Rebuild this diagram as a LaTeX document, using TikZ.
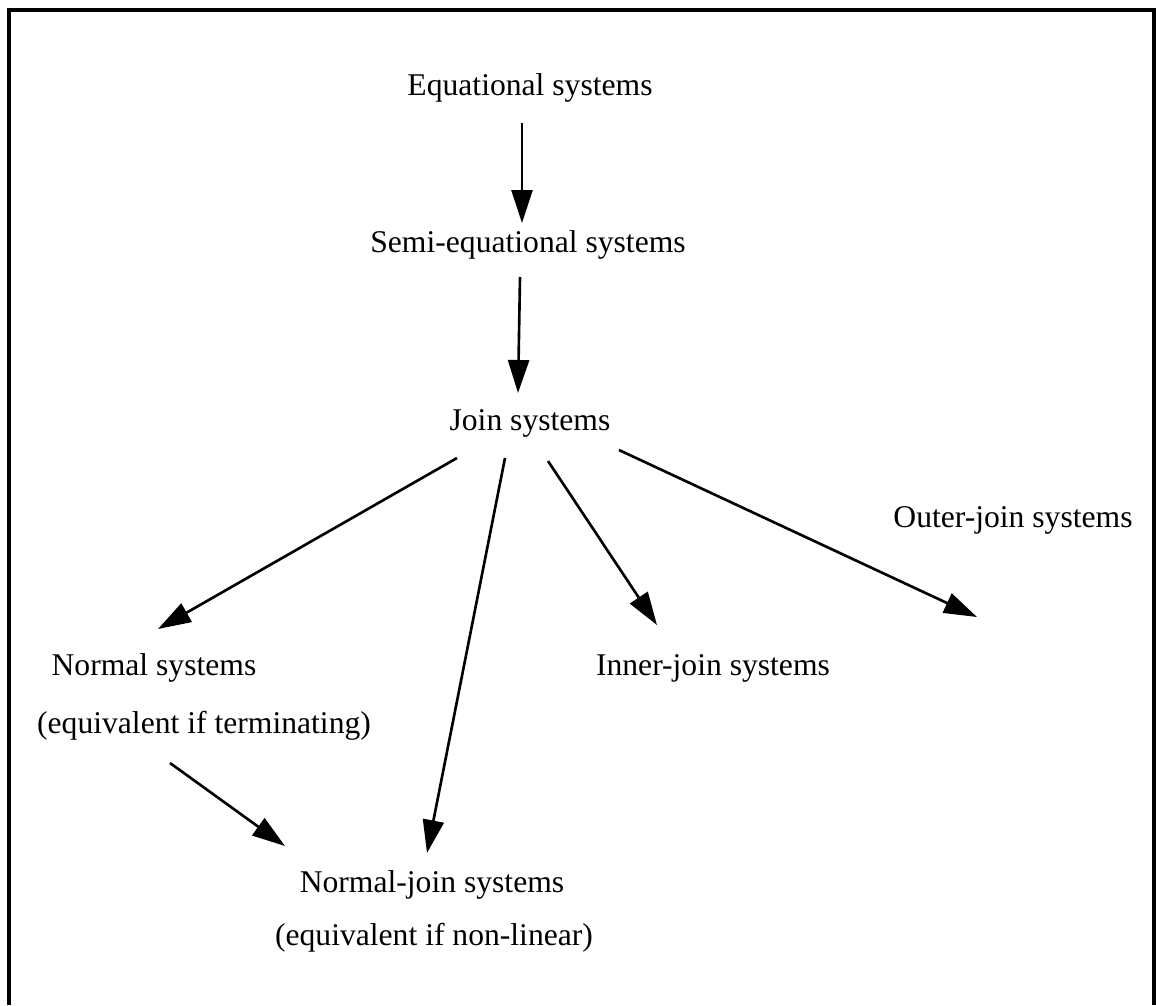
\documentclass[tikz,border=0pt]{standalone}
\usepackage{fontspec}
\setmainfont{Liberation Serif}
\usetikzlibrary{arrows.meta,calc}

\begin{document}
\begin{tikzpicture}[
    x=0.02cm, y=-0.02cm,
    >={Triangle[length=0.66cm,width=0.42cm]},
    every node/.style={font=\fontsize{18}{22}\selectfont, inner sep=0pt},
    lbl/.style={anchor=base},
    arr/.style={->, line width=1.5pt},
    frame/.style={line width=1.8pt, line join=miter}
]
    \useasboundingbox (0,0) rectangle (1156,1005);
    \draw[frame] (9,1005) -- (9,10) -- (1154,10) -- (1154,1005);

    % systems
    \node[lbl] (eq) at (530,95) {Equational systems};
    \node[lbl] (semi) at (528,252) {Semi-equational systems};
    \node[lbl] (join) at (530,430) {Join systems};
    \node[lbl] (outer) at (1013,527) {Outer-join systems};
    \node[lbl] (normal) at (154,675) {Normal systems};
    \node[lbl] (normalnote) at (204,733) {(equivalent if terminating)};
    \node[lbl] (innerj) at (713,675) {Inner-join systems};
    \node[lbl] (normaljoin) at (432,892) {Normal-join systems};
    \node[lbl] (njnote) at (434,945) {(equivalent if non-linear)};
    \coordinate (outertip) at ($(outer.base)+(-36,90)$);

    % arrows
    \draw[arr] ($(eq.base)+(-8,28)$) -- ($(semi.base)+(-6,-29)$);
    \draw[arr] ($(semi.base)+(-8,25)$) -- ($(join.base)+(-12,-37)$);
    \draw[arr] ($(join.base)+(-73,28)$) -- ($(normal.base)+(4,-46)$);
    \draw[arr] ($(join.base)+(-25,28)$) -- ($(normaljoin.base)+(-5,-39)$);
    \draw[arr] ($(join.base)+(18,31)$) -- ($(innerj.base)+(-56,-50)$);
    \draw[arr] ($(join.base)+(89,20)$) -- (outertip);
    \draw[arr] ($(normalnote.base)+(-34,30)$) -- ($(normaljoin.base)+(-147,-46)$);
\end{tikzpicture}
\end{document}
